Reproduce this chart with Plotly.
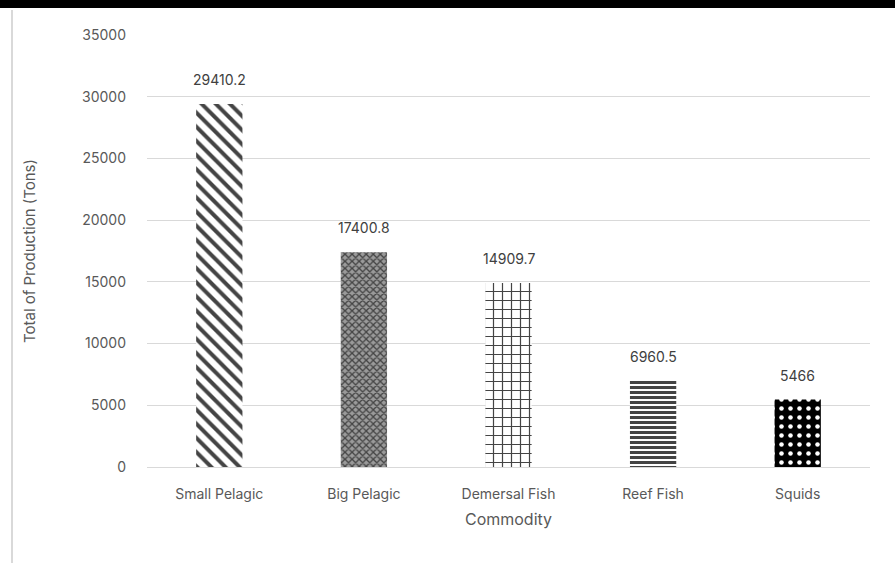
import plotly.graph_objects as go

categories = ["Small Pelagic", "Big Pelagic", "Demersal Fish", "Reef Fish", "Squids"]
values = [29410.2, 17400.8, 14909.7, 6960.5, 5466]
labels = ["29410.2", "17400.8", "14909.7", "6960.5", "5466"]
y_ticks = [0, 5000, 10000, 15000, 20000, 25000, 30000, 35000]
y_tick_text = [str(v) for v in y_ticks]

shapes_ = ["\\", "x", "+", "-", "."]
fg = ["black", "#222222", "black", "black", "white"]
bg = ["white", "#9a9a9a", "white", "white", "black"]
sizes = [10, 5, 9, 5, 9]
solid = [0.4, 0.45, 0.25, 0.6, 0.2]

W, H = 895, 563
L, R, T, B = 147, 870, 35, 467

def px(x):
    return (x - L) / (R - L)

def py(y):
    return (B - y) / (B - T)

fig = go.Figure()
fig.add_trace(go.Bar(
    x=categories, y=values,
    marker=dict(
        color=bg,
        line=dict(width=0),
        pattern=dict(shape=shapes_, fgcolor=fg, bgcolor=bg, size=sizes,
                     solidity=solid, fillmode="overlay", fgopacity=1),
    ),
))

for c, v, t in zip(categories, values, labels):
    fig.add_annotation(x=c, y=v, text=t, showarrow=False, yanchor="bottom",
                       yshift=14, font=dict(size=14, color="#404040"))

fig.update_layout(
    width=W, height=H,
    margin=dict(l=L, r=W - R, t=T, b=H - B),
    paper_bgcolor="white", plot_bgcolor="white",
    font=dict(family="Inter, Open Sans, sans-serif", color="#595959", size=14),
    bargap=0.68,
    showlegend=False,
    xaxis=dict(
        title=dict(text="Commodity", font=dict(size=16, color="#595959"), standoff=13),
        showline=True, linecolor="#d9d9d9", linewidth=1,
        tickfont=dict(size=14, color="#595959"), ticks="", ticklabelstandoff=14,
    ),
    yaxis=dict(
        title=dict(text="Total of Production (Tons)", font=dict(size=15, color="#595959"), standoff=42),
        range=[0, 35000], tickvals=y_ticks, ticktext=y_tick_text,
        showgrid=True, gridcolor="#d9d9d9",
        gridwidth=1, zeroline=False, tickfont=dict(size=14, color="#595959"),
        ticks="", ticklabelstandoff=20,
    ),
    shapes=[
        dict(type="rect", xref="paper", yref="paper",
             x0=px(0), x1=px(W), y0=py(8), y1=py(0),
             fillcolor="black", line=dict(width=0), layer="above"),
        dict(type="line", xref="paper", yref="paper",
             x0=px(12), x1=px(12), y0=py(10), y1=py(H),
             line=dict(color="#d9d9d9", width=2)),
    ],
)

fig.write_html("out.html")
